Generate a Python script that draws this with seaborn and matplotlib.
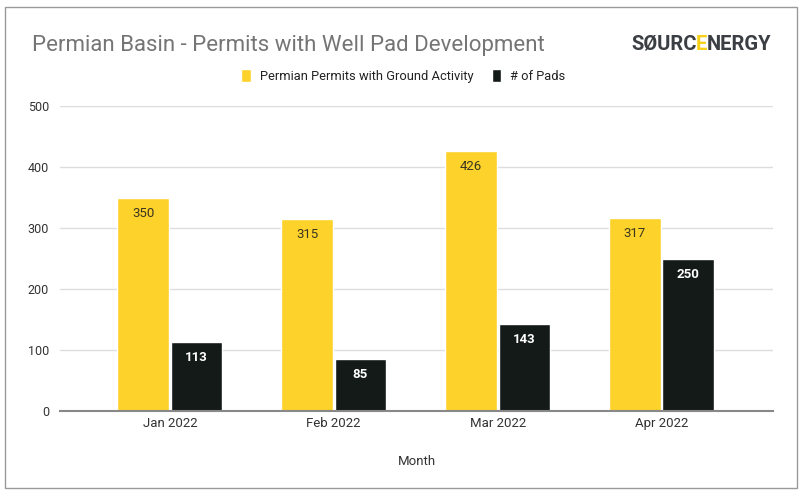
import matplotlib
matplotlib.use("Agg")
import matplotlib.pyplot as plt
import seaborn as sns
import pandas as pd
from matplotlib.patches import Rectangle, Patch

months = ["Jan 2022", "Feb 2022", "Mar 2022", "Apr 2022"]
permits = [350, 315, 426, 317]
pads = [113, 85, 143, 250]
series_names = ["Permian Permits with Ground Activity", "# of Pads"]
yticks = [0, 100, 200, 300, 400, 500]

df = pd.DataFrame({
    "Month": months * 2,
    "value": permits + pads,
    "series": [series_names[0]] * 4 + [series_names[1]] * 4,
})

YELLOW = "#FDD22B"
DARK = "#131A17"

sns.set_theme(style="white")
plt.rcParams["font.family"] = ["Roboto", "DejaVu Sans"]

fig = plt.figure(figsize=(8.07, 4.96), dpi=100)
ax = fig.add_axes([60/807, (496-411)/496, (773-60)/807, (411-106)/496])

sns.barplot(data=df, x="Month", y="value", hue="series", order=months,
            hue_order=series_names, palette=[YELLOW, DARK],
            width=0.65, gap=0.035, saturation=1, ax=ax, legend=False)

ax.set_xlim(-0.67, 3.68)
ax.set_ylim(0, 500)
ax.set_yticks(yticks)
ax.set_yticklabels([str(t) for t in yticks], fontsize=9, color="#333333")
ax.tick_params(axis="y", length=0, pad=8)
ax.tick_params(axis="x", length=0, pad=4, labelsize=9.5, labelcolor="#333333")
ax.yaxis.grid(True, color="#DDDDDD", linewidth=1)
ax.set_axisbelow(True)
for s in ["top", "right", "left"]:
    ax.spines[s].set_visible(False)
ax.spines["bottom"].set_color("#888888")
ax.spines["bottom"].set_linewidth(1.5)
ax.set_ylabel("")
ax.set_xlabel("Month", fontsize=9.5, color="#333333", labelpad=18)

for cont, col, wt in zip(ax.containers, ["#3a3520", "white"], ["normal", "bold"]):
    ax.bar_label(cont, labels=[f"{int(v)}" for v in cont.datavalues],
                 label_type="edge", padding=-16, fontsize=9.5,
                 color=col, fontweight=wt)

# title
fig.text(32/807, 1-45/496, "Permian Basin - Permits with Well Pad Development",
         fontsize=16, color="#757575", va="center", ha="left")

# legend
handles = [Patch(facecolor=YELLOW), Patch(facecolor=DARK)]
fig.legend(handles, series_names, loc="center", bbox_to_anchor=(0.5, 1-76/496),
           ncol=2, frameon=False, fontsize=9.3, handlelength=0.75,
           handleheight=1.1, handletextpad=0.7, columnspacing=1.4,
           labelcolor="#222222")

# logo
fig.canvas.draw()
r = fig.canvas.get_renderer()
x = 631/807
y = 1-44/496
parts = [("SØURC", "#3b3f44"), ("E", "#F7D117"), ("NERGY", "#3b3f44")]
for txt, c in parts:
    t = fig.text(x, y, txt, fontsize=14.5, fontweight="bold", color=c,
                 va="center", ha="left", family=["Roboto"])
    bb = t.get_window_extent(renderer=r)
    x += (bb.width - 0.5) / fig.bbox.width

# border
fig.patches.append(Rectangle((5/807, 1-488/496), (797-5)/807, (488-7)/496,
                             transform=fig.transFigure, fill=False,
                             edgecolor="#9a9a9a", linewidth=1))

fig.savefig("out.png", dpi=100)
